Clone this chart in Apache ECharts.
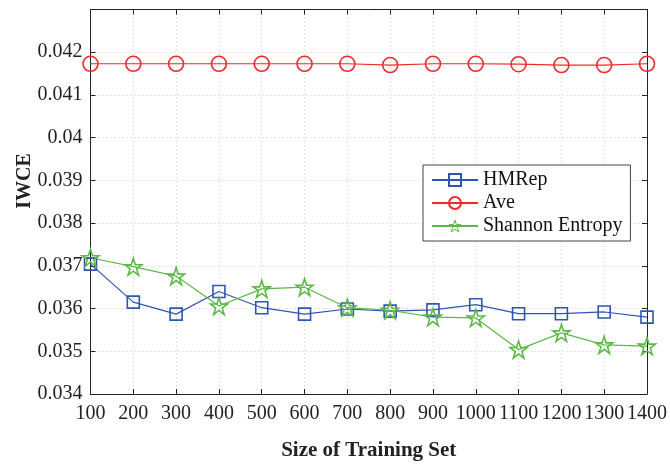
<!DOCTYPE html>
<html><head><meta charset="utf-8">
<script src="https://cdn.jsdelivr.net/npm/echarts@6/dist/echarts.min.js"></script>
<style>html,body{margin:0;padding:0;background:#fff}#c{width:670px;height:466px}</style>
</head><body><div id="c"></div>
<script>
const sizes = [100,200,300,400,500,600,700,800,900,1000,1100,1200,1300,1400];
const hmrep = [0.03704,0.03615,0.03587,0.03640,0.03602,0.03587,0.03599,0.03594,0.03597,0.03609,0.03588,0.03588,0.03592,0.03580];
const ave = [0.04173,0.04173,0.04173,0.04173,0.04173,0.04173,0.04173,0.04170,0.04173,0.04173,0.04172,0.04170,0.04170,0.04173];
const shannon = [0.03719,0.03698,0.03676,0.03606,0.03646,0.03650,0.03602,0.03596,0.03580,0.03578,0.03504,0.03543,0.03515,0.03512];
const yTicks = [0.034,0.035,0.036,0.037,0.038,0.039,0.04,0.041,0.042];

const FONT = '"Liberation Serif","DejaVu Serif",serif';
const star = 'path://M50,0 L61.8,35.4 L99,35.4 L69,57.3 L80.3,92.7 L50,70.8 L19.7,92.7 L31,57.3 L1,35.4 L38.2,35.4 Z';
const pair = a => sizes.map((s,i)=>[s,a[i]]);
const chart = echarts.init(document.getElementById('c'));
const gridLine = {show:true, lineStyle:{color:'#c8c8c8', type:[1,3], width:1}};
const clear = 'rgba(255,255,255,0)';
chart.setOption({
  animation:false,
  grid:{left:90.5, right:21, top:9.5, bottom:66},
  legend:{
    orient:'vertical', left:423, top:165, backgroundColor:'#fff',
    borderColor:'#444', borderWidth:1, padding:[5,8,5,8], itemGap:3,
    itemWidth:46, itemHeight:15,
    textStyle:{fontFamily:FONT, fontSize:20, color:'#111'},
    data:[
      {name:'HMRep', itemStyle:{color:clear}},
      {name:'Ave', itemStyle:{color:clear}},
      {name:'Shannon Entropy', itemStyle:{color:clear, borderWidth:1}}
    ]
  },
  xAxis:[{
    type:'value', min:100, max:1400, interval:100,
    axisLine:{lineStyle:{color:'#222'}},
    axisTick:{inside:true, length:5, lineStyle:{color:'#222'}},
    axisLabel:{fontFamily:FONT, fontSize:20, color:'#222', margin:10, formatter:v => String(v)},
    splitLine:gridLine,
    name:'Size of Training Set', nameLocation:'middle', nameGap:46,
    nameTextStyle:{fontFamily:FONT, fontSize:21, fontWeight:'bold', color:'#222'}
  },{
    type:'value', position:'top', min:100, max:1400, interval:100,
    axisLine:{show:true,lineStyle:{color:'#222'}},
    axisTick:{show:true, inside:true, length:5, lineStyle:{color:'#222'}},
    axisLabel:{show:false}, splitLine:{show:false}
  }],
  yAxis:[{
    type:'value', min:0.034, max:0.043, interval:0.001,
    axisLine:{show:true,lineStyle:{color:'#222'}},
    axisTick:{show:true, inside:true, length:5, lineStyle:{color:'#222'}},
    axisLabel:{fontFamily:FONT, fontSize:20, color:'#222', margin:8,
      formatter:v => { const r = Math.round(v*1000)/1000; return yTicks.includes(r) ? String(r) : ''; }},
    splitLine:gridLine
  },{
    type:'value', position:'right', min:0.034, max:0.043, interval:0.001,
    axisLine:{show:true,lineStyle:{color:'#222'}},
    axisTick:{show:true, inside:true, length:5, lineStyle:{color:'#222'}},
    axisLabel:{show:false}, splitLine:{show:false}
  }],
  graphic:[{
    type:'text', x:25, y:181, rotation:Math.PI/2,
    style:{text:'IWCE', font:'bold 20px '+FONT, fill:'#222', align:'center', verticalAlign:'middle'}
  }],
  series:[
    {name:'HMRep', type:'line', data:pair(hmrep), symbol:'rect', symbolSize:12,
     lineStyle:{color:'#2f55b4', width:1.2},
     itemStyle:{color:clear, borderColor:'#2f55b4', borderWidth:1.6}},
    {name:'Ave', type:'line', data:pair(ave), symbol:'circle', symbolSize:15,
     lineStyle:{color:'#ee2a2a', width:1.2},
     itemStyle:{color:clear, borderColor:'#ee2a2a', borderWidth:1.6}},
    {name:'Shannon Entropy', type:'line', data:pair(shannon), symbol:star, symbolSize:17,
     lineStyle:{color:'#5cb947', width:1.2},
     itemStyle:{color:clear, borderColor:'#5cb947', borderWidth:1.6}}
  ]
});
</script></body></html>
